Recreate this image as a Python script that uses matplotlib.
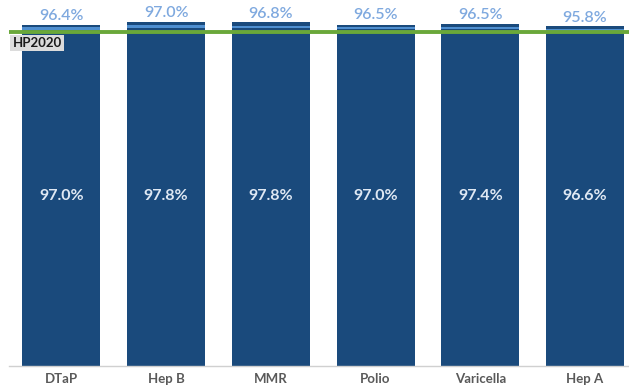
import numpy as np
import matplotlib.pyplot as plt

# Vaccination coverage per vaccine
vaccines = ['DTaP', 'Hep B', 'MMR', 'Polio', 'Varicella', 'Hep A']
coverage_inner = [97.0, 97.8, 97.8, 97.0, 97.4, 96.6]
coverage_outer = [96.4, 97.0, 96.8, 96.5, 96.5, 95.8]
hp2020_target = 95.0

dark = '#1a4a7c'
light = '#4f8fd0'
label_light = '#7fa9df'
green = '#6aa83a'

fig = plt.figure(figsize=(6.29, 3.86), dpi=100)
ax = fig.add_axes([9 / 629, 20 / 386, 620 / 629, 351.5 / 386])

x = np.arange(len(vaccines))
width = 0.745

ax.bar(x, coverage_inner, width, color=dark, zorder=2)
# thin lighter band marking the second series
band = 0.7
ax.bar(x, [band] * len(x), width, bottom=np.array(coverage_outer) - band,
       color=light, zorder=3)

for xi, v in zip(x, coverage_inner):
    ax.text(xi, 48.5, f'{v:.1f}%', ha='center', va='center', color='#dfe8f3',
            fontsize=11.5, fontweight='bold', family='Lato', zorder=4)
for xi, v in zip(x, coverage_outer):
    ax.text(xi, v + 3.3, f'{v:.1f}%', ha='center', va='center', color=label_light,
            fontsize=11.5, fontweight='semibold', family='Lato', clip_on=False, zorder=4)

ax.axhline(hp2020_target, color=green, lw=2.8, zorder=5)
ax.text(0.006, hp2020_target - 1.4, 'HP2020', transform=ax.get_yaxis_transform(),
        ha='left', va='top', fontsize=9.5, fontweight='bold', color='#1a1a1a',
        family='Lato', zorder=6,
        bbox=dict(boxstyle='square,pad=0.18', facecolor='#dcdcdc', edgecolor='none'))

ax.set_xlim(-0.5, 5.42)
ax.set_ylim(0, 100)
ax.set_xticks(x)
ax.set_xticklabels(vaccines, fontsize=9.5, fontweight='bold', color='#595959', family='Lato')
ax.tick_params(axis='x', length=0, pad=5)
ax.set_yticks([])
for side in ['top', 'right', 'left']:
    ax.spines[side].set_visible(False)
ax.spines['bottom'].set_color('#d0d0d0')
ax.spines['bottom'].set_linewidth(1)

fig.savefig('out.png', dpi=100)
